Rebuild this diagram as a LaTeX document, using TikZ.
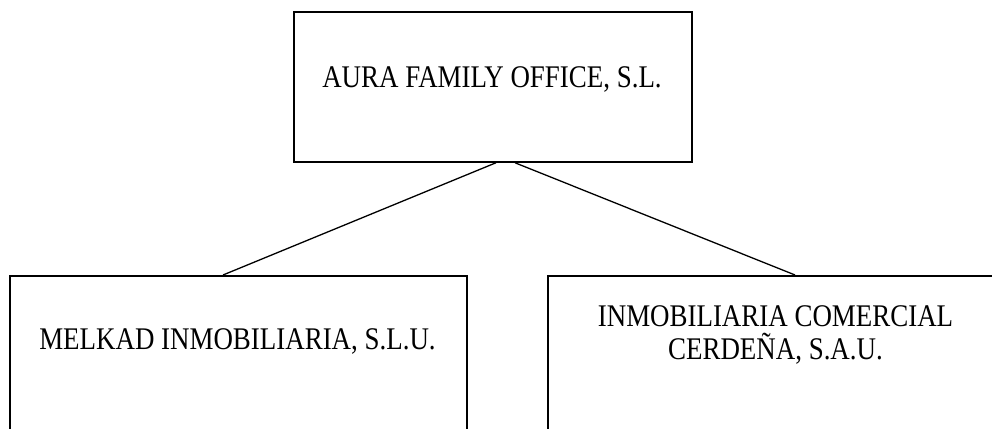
\documentclass[tikz,border=0pt]{standalone}
\usepackage{fontspec}
\setmainfont[FakeStretch=0.855]{Liberation Serif}
\usetikzlibrary{calc}
\begin{document}
\begin{tikzpicture}[x=1pt,y=1pt,
  box/.style={draw=black,line width=1.5pt,rectangle,inner sep=0pt},
  lbl/.style={font=\fontsize{31.5}{33}\selectfont,align=center,inner sep=0pt,anchor=base},
  conn/.style={draw=black,line width=1.3pt}]
\useasboundingbox (0,0) rectangle (992,-428);
\clip (0,0) rectangle (992,-428);
\node[box,minimum width=398pt,minimum height=150pt] (top) at (493,-87) {};
\node[box,minimum width=457pt,minimum height=170pt,anchor=north west] (left) at (9,-275) {};
\node[box,minimum width=458pt,minimum height=170pt,anchor=north west] (right) at (547,-275) {};
\node[lbl] (ttop) at (492,-87) {AURA FAMILY OFFICE, S.L.};
\node[lbl] (tleft) at (237.5,-349) {MELKAD INMOBILIARIA, S.L.U.};
\node[lbl] (tright) at (775.5,-359) {INMOBILIARIA COMERCIAL\\CERDEÑA, S.A.U.};
\coordinate (a1) at ($(top.south)+(3,0)$);
\coordinate (a2) at ($(top.south)+(22,0)$);
\coordinate (b1) at (left.north -| 223,0);
\coordinate (b2) at (right.north -| 795,0);
\draw[conn] (a1) -- (b1);
\draw[conn] (a2) -- (b2);
\end{tikzpicture}
\end{document}
